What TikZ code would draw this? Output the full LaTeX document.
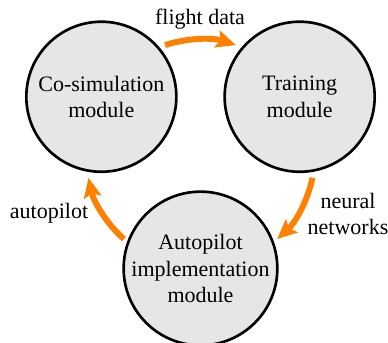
\documentclass[tikz,border=0pt]{standalone}
\usepackage{fontspec}
\setmainfont{Liberation Serif}
\usetikzlibrary{arrows.meta}
\definecolor{flowc}{RGB}{255,128,0}
\definecolor{modfill}{RGB}{230,230,230}
\begin{document}
\begin{tikzpicture}[x=0.4545pt,y=0.4545pt,
  module/.style={circle,draw=black,fill=modfill,line width=1.2pt,minimum size=150\pgflinewidth,inner sep=0pt,align=center,font=\fontsize{10pt}{12pt}\selectfont},
  flow/.style={draw=flowc,line width=2.7pt,-{Stealth[length=9pt,width=8pt,inset=1.8pt]}},
  lbl/.style={align=center,font=\fontsize{10pt}{12pt}\selectfont,inner sep=0pt}]
\useasboundingbox (0,0) rectangle (388,343);
\coordinate (O) at (200.5,189);
\def\R{114.5}
\node[module,minimum size=68.2pt] (cosim) at ([shift={(150:\R)}]O) {Co-simulation\\module};
\node[module,minimum size=68.2pt] (train) at ([shift={(30:\R)}]O) {Training\\module};
\node[module,minimum size=68.2pt] (auto) at ([shift={(270:\R)}]O) {Autopilot\\implementation\\module};
\coordinate (s1) at ([shift={(108:\R)}]O);
\coordinate (s2) at ([shift={(-12:\R)}]O);
\coordinate (s3) at ([shift={(228:\R)}]O);
\draw[flow] (s1) arc[start angle=108,end angle=72,radius=\R];
\draw[flow] (s2) arc[start angle=-12,end angle=-48,radius=\R];
\draw[flow] (s3) arc[start angle=228,end angle=192,radius=\R];
\node[lbl] (l1) at (200,324) {flight data};
\node[lbl] (l2) at (348,129) {neural\\networks};
\node[lbl] (l3) at (49,130) {autopilot};
\end{tikzpicture}
\end{document}
